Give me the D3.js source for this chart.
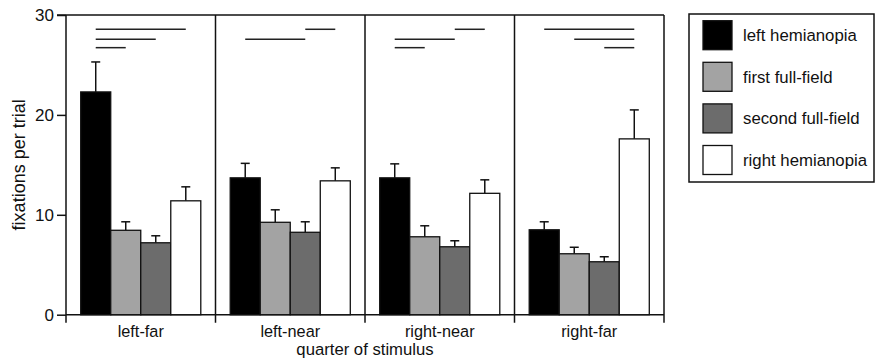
<!DOCTYPE html>
<html>
<head>
<meta charset="utf-8">
<script src="https://cdn.jsdelivr.net/npm/d3@7"></script>
<style>
  body { margin: 0; background: #fff; }
  text { font-family: "Liberation Sans", Arial, sans-serif; fill: #111; }
</style>
</head>
<body>
<div class="chart"></div>
<script>
// values
const quarters = ["left-far", "left-near", "right-near", "right-far"];
const series = ["left hemianopia", "first full-field", "second full-field", "right hemianopia"];
const colors = ["#000000", "#a3a3a3", "#6c6c6c", "#ffffff"];
const means = [
  [22.3, 8.45, 7.2, 11.4],
  [13.7, 9.25, 8.25, 13.4],
  [13.7, 7.8, 6.8, 12.15],
  [8.5, 6.1, 5.3, 17.6]
];
const errTops = [
  [25.3, 9.3, 7.9, 12.8],
  [15.15, 10.5, 9.3, 14.7],
  [15.1, 8.9, 7.4, 13.5],
  [9.3, 6.75, 5.8, 20.5]
];
const yTicks = [0, 10, 20, 30];
// significance bars: [quarter, from series, to series, level]
const sigLevels = [28.57, 27.57, 26.73];
const sigPairs = [
  [0, 0, 3, 0], [0, 0, 2, 1], [0, 0, 1, 2],
  [1, 2, 3, 0], [1, 0, 2, 1],
  [2, 2, 3, 0], [2, 0, 2, 1], [2, 0, 1, 2],
  [3, 0, 3, 0], [3, 1, 3, 1], [3, 2, 3, 2]
];

const width = 875, height = 364;
const svg = d3.select(".chart").append("svg")
  .attr("width", width).attr("height", height);

const x0 = d3.scaleBand().domain(quarters).range([66, 664]);
const x1 = d3.scaleBand().domain(series).range([0, x0.bandwidth()]).paddingOuter(0.49);
const y = d3.scaleLinear().domain([0, 30]).range([314.7, 15]);
const c = d3.scaleOrdinal().domain(series).range(colors);

const bottom = y(0) + 8;

// frame: top line, dividers, right border
svg.append("line")
  .attr("x1", 57).attr("x2", 664).attr("y1", y(30)).attr("y2", y(30))
  .attr("stroke", "#111").attr("stroke-width", 1.5);

const bounds = quarters.map(q => x0(q)).concat([x0.range()[1]]);
svg.selectAll(".divider").data(bounds).enter().append("line")
  .attr("class", "divider")
  .attr("x1", d => d).attr("x2", d => d)
  .attr("y1", y(30)).attr("y2", bottom)
  .attr("stroke", "#111").attr("stroke-width", 1.5);

// x baseline
svg.append("line")
  .attr("x1", 66).attr("x2", 664).attr("y1", y(0)).attr("y2", y(0))
  .attr("stroke", "#111").attr("stroke-width", 1.5);

// y axis
const yAxis = svg.append("g")
  .attr("transform", "translate(66,0)")
  .call(d3.axisLeft(y).tickValues(yTicks).tickSize(9).tickPadding(3).tickFormat(d3.format("d")));
yAxis.select(".domain").remove();
yAxis.selectAll("line").attr("stroke", "#111").attr("stroke-width", 1.5);
yAxis.selectAll("text").attr("font-size", 17).attr("fill", "#111")
  .style("font-family", "'Liberation Sans', Arial, sans-serif");

// bars
const groups = svg.selectAll(".quarter").data(quarters).enter().append("g")
  .attr("class", "quarter")
  .attr("transform", d => `translate(${x0(d)},0)`);

groups.each(function (q, qi) {
  const g = d3.select(this);
  const rows = series.map((s, si) => ({ s, v: means[qi][si], e: errTops[qi][si] }));

  // error bars
  g.selectAll(".err").data(rows).enter().append("line")
    .attr("x1", d => x1(d.s) + x1.bandwidth() / 2)
    .attr("x2", d => x1(d.s) + x1.bandwidth() / 2)
    .attr("y1", d => y(d.v)).attr("y2", d => y(d.e))
    .attr("stroke", "#111").attr("stroke-width", 1.5);
  g.selectAll(".cap").data(rows).enter().append("line")
    .attr("x1", d => x1(d.s) + x1.bandwidth() / 2 - 4.5)
    .attr("x2", d => x1(d.s) + x1.bandwidth() / 2 + 4.5)
    .attr("y1", d => y(d.e)).attr("y2", d => y(d.e))
    .attr("stroke", "#111").attr("stroke-width", 1.5);

  g.selectAll(".bar").data(rows).enter().append("rect")
    .attr("class", "bar")
    .attr("x", d => x1(d.s))
    .attr("y", d => y(d.v))
    .attr("width", x1.bandwidth())
    .attr("height", d => y(0) - y(d.v))
    .attr("fill", d => c(d.s))
    .attr("stroke", "#111").attr("stroke-width", 1.3);
});

// significance lines
svg.selectAll(".sig").data(sigPairs).enter().append("line")
  .attr("class", "sig")
  .attr("x1", d => x0(quarters[d[0]]) + x1(series[d[1]]) + x1.bandwidth() / 2)
  .attr("x2", d => x0(quarters[d[0]]) + x1(series[d[2]]) + x1.bandwidth() / 2)
  .attr("y1", d => y(sigLevels[d[3]])).attr("y2", d => y(sigLevels[d[3]]))
  .attr("stroke", "#222").attr("stroke-width", 1.5);

// x labels
svg.selectAll(".xlab").data(quarters).enter().append("text")
  .attr("x", d => x0(d) + x0.bandwidth() / 2)
  .attr("y", 336.5)
  .attr("text-anchor", "middle")
  .attr("font-size", 16.3)
  .text(d => d);

svg.append("text")
  .attr("x", 365).attr("y", 355)
  .attr("text-anchor", "middle").attr("font-size", 16.7)
  .text("quarter of stimulus");

svg.append("text")
  .attr("transform", `translate(25,${(y(0) + y(30)) / 2}) rotate(-90)`)
  .attr("text-anchor", "middle").attr("font-size", 18)
  .text("fixations per trial");

// legend
const legend = svg.append("g");
legend.append("rect")
  .attr("x", 689).attr("y", 14).attr("width", 185).attr("height", 168)
  .attr("fill", "none").attr("stroke", "#111").attr("stroke-width", 1.5);

const items = legend.selectAll(".item").data(series).enter().append("g")
  .attr("transform", (d, i) => `translate(703,${20.7 + i * 41.6})`);
items.append("rect")
  .attr("width", 29).attr("height", 29)
  .attr("fill", d => c(d))
  .attr("stroke", "#111").attr("stroke-width", 1.3);
items.append("text")
  .attr("x", 40).attr("y", 14.5).attr("dy", "0.36em")
  .attr("font-size", 16.8)
  .text(d => d);
</script>
</body>
</html>
